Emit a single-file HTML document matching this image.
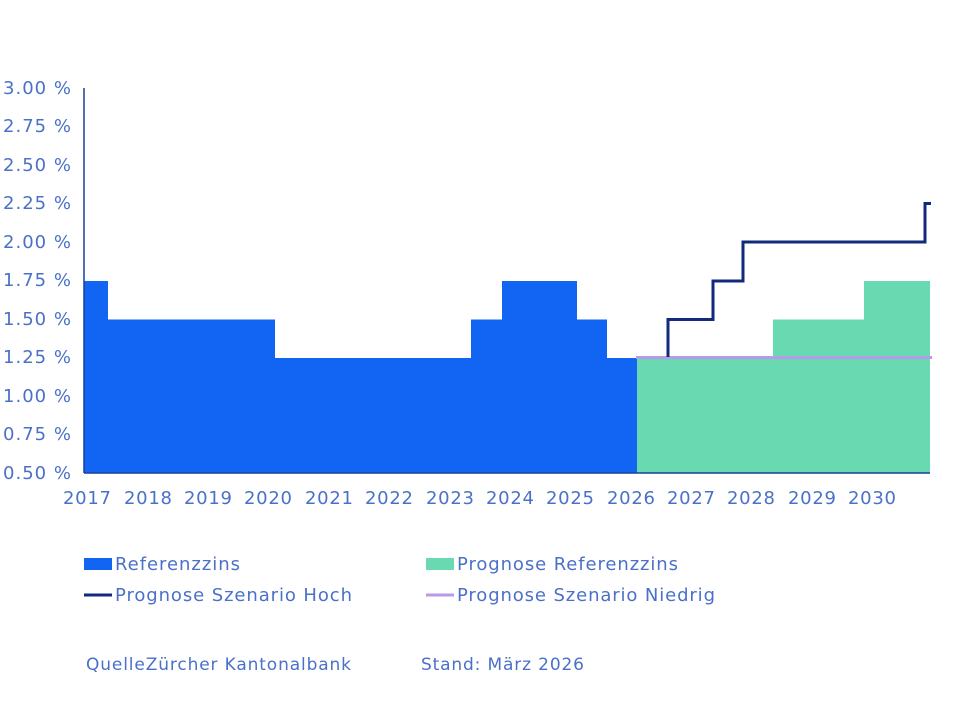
<!DOCTYPE html>
<html><head><style>
body{margin:0;background:#fff;}
svg text{font-family:"DejaVu Sans",sans-serif;fill:#4a70c9;}
</style></head><body>
<svg width="960" height="720" xmlns="http://www.w3.org/2000/svg">
<g font-size="18" text-anchor="end">
<text x="71" y="94" textLength="68">3.00 %</text>
<text x="71" y="132" textLength="68">2.75 %</text>
<text x="71" y="171" textLength="68">2.50 %</text>
<text x="71" y="209" textLength="68">2.25 %</text>
<text x="71" y="248" textLength="68">2.00 %</text>
<text x="71" y="286" textLength="68">1.75 %</text>
<text x="71" y="325" textLength="68">1.50 %</text>
<text x="71" y="363" textLength="68">1.25 %</text>
<text x="71" y="402" textLength="68">1.00 %</text>
<text x="71" y="440" textLength="68">0.75 %</text>
<text x="71" y="479" textLength="68">0.50 %</text>
</g>
<path d="M84,473 V281 H108 V319.5 H275 V358 H471 V319.5 H502 V281 H577 V319.5 H607 V358 H637 V473 Z" fill="#1264f2"/>
<path d="M637,473 V358 H773 V319.5 H864 V281 H930 V473 Z" fill="#68d9b0"/>
<line x1="636" y1="357.5" x2="932" y2="357.5" stroke="#b79ae8" stroke-width="3"/>
<path d="M668,357 V319.5 H713 V281 H743 V242 H925 V203.5 H931" fill="none" stroke="#13297e" stroke-width="3"/>
<line x1="84" y1="88" x2="84" y2="473" stroke="#1a3f9a" stroke-width="1.5"/>
<line x1="84" y1="473" x2="930" y2="473" stroke="#1a3f9a" stroke-width="1.5"/>
<g font-size="18" text-anchor="middle">
<text x="87" y="504" textLength="48">2017</text><text x="148" y="504" textLength="48">2018</text><text x="208" y="504" textLength="48">2019</text>
<text x="268" y="504" textLength="48">2020</text><text x="329" y="504" textLength="48">2021</text><text x="389" y="504" textLength="48">2022</text>
<text x="450" y="504" textLength="48">2023</text><text x="510" y="504" textLength="48">2024</text><text x="570" y="504" textLength="48">2025</text>
<text x="631" y="504" textLength="48">2026</text><text x="691" y="504" textLength="48">2027</text><text x="751" y="504" textLength="48">2028</text>
<text x="812" y="504" textLength="48">2029</text><text x="872" y="504" textLength="48">2030</text>
</g>
<rect x="84" y="558" width="28" height="12" fill="#1264f2"/>
<text x="115" y="570" font-size="18" textLength="125">Referenzzins</text>
<rect x="426" y="558" width="28" height="12" fill="#68d9b0"/>
<text x="457" y="570" font-size="18" textLength="221">Prognose Referenzzins</text>
<line x1="84" y1="595" x2="112" y2="595" stroke="#13297e" stroke-width="3"/>
<text x="115" y="601" font-size="18" textLength="237">Prognose Szenario Hoch</text>
<line x1="426" y1="595" x2="454" y2="595" stroke="#b79ae8" stroke-width="3"/>
<text x="457" y="601" font-size="18" textLength="258">Prognose Szenario Niedrig</text>
<text x="86" y="670" font-size="17" textLength="265">QuelleZürcher Kantonalbank</text>
<text x="421" y="670" font-size="17" textLength="163">Stand: März 2026</text>
</svg>
</body></html>
